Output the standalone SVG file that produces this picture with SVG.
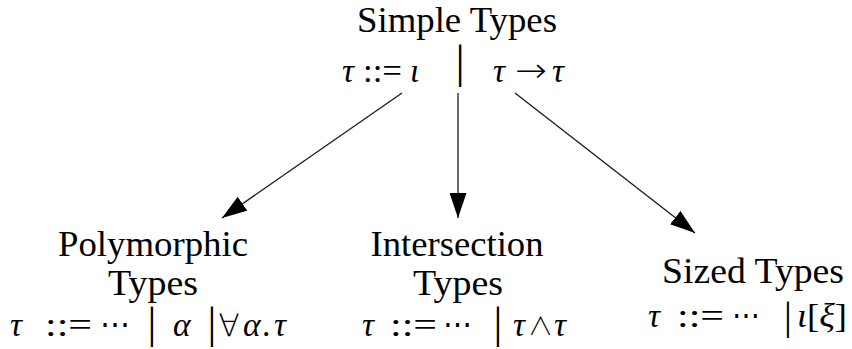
<svg xmlns="http://www.w3.org/2000/svg" width="852" height="349" viewBox="0 0 852 349">
<style>
text{font-family:"Liberation Serif","DejaVu Serif",serif;font-size:33.5px;fill:#000}
.h{font-size:35px;text-anchor:middle}
.m{font-style:italic}
.bar{text-anchor:middle}
.sym{font-family:"DejaVu Sans",sans-serif;font-weight:200;text-anchor:middle}
.wedge{font-family:"Noto Sans CJK JP","DejaVu Sans",sans-serif;font-weight:300;text-anchor:middle}
.arr{font-family:"DejaVu Sans",sans-serif;font-weight:200}
.c{stroke:#1a1a1a;stroke-width:1.3;fill:none}
</style>
<defs>
<marker id="ah" viewBox="0 0 25 17" refX="25" refY="8.5" markerWidth="25" markerHeight="17" markerUnits="userSpaceOnUse" orient="auto">
<path d="M0,0 L25,8.5 L0,17 z" fill="#000"/>
</marker>
</defs>
<g id="connectors">
<line class="c" x1="402" y1="93" x2="222" y2="218" marker-end="url(#ah)"/>
<line class="c" x1="458" y1="93" x2="458" y2="218" marker-end="url(#ah)"/>
<line class="c" x1="515" y1="93" x2="695" y2="233" marker-end="url(#ah)"/>
</g>
<g id="simple">
<text class="h" x="457" y="32" textLength="200" lengthAdjust="spacingAndGlyphs">Simple Types</text>
<text class="m" x="342" y="82">τ</text>
<text x="363" y="82" textLength="39" lengthAdjust="spacingAndGlyphs">::=</text>
<text class="m" x="410" y="82">ι</text>
<text class="bar" x="460" y="77" style="font-size:46px">|</text>
<text class="m" x="493" y="82">τ</text>
<text class="arr" x="515" y="82" textLength="32" lengthAdjust="spacingAndGlyphs">→</text>
<text class="m" x="552" y="82">τ</text>
</g>
<g id="poly">
<text class="h" x="153" y="256" textLength="190" lengthAdjust="spacingAndGlyphs">Polymorphic</text>
<text class="h" x="153" y="295" textLength="90" lengthAdjust="spacingAndGlyphs">Types</text>
<text class="m" x="10" y="336">τ</text>
<text x="45" y="336" textLength="47" lengthAdjust="spacingAndGlyphs">::=</text>
<text x="100" y="336" textLength="30" lengthAdjust="spacingAndGlyphs">⋯</text>
<text class="bar" x="152" y="337.5" style="font-size:44px">|</text>
<text class="m" x="173" y="336">α</text>
<text class="bar" x="212" y="337.5" style="font-size:44px">|</text>
<text class="sym" x="229" y="336" style="font-size:31px">∀</text>
<text class="m" x="243" y="336">α</text>
<text x="262" y="336">.</text>
<text class="m" x="274" y="336">τ</text>
</g>
<g id="inter">
<text class="h" x="457" y="256" textLength="173" lengthAdjust="spacingAndGlyphs">Intersection</text>
<text class="h" x="458" y="295" textLength="90" lengthAdjust="spacingAndGlyphs">Types</text>
<text class="m" x="362" y="336">τ</text>
<text x="390" y="336" textLength="47" lengthAdjust="spacingAndGlyphs">::=</text>
<text x="443" y="336" textLength="29" lengthAdjust="spacingAndGlyphs">⋯</text>
<text class="bar" x="498" y="337.5" style="font-size:44px">|</text>
<text class="m" x="513" y="336">τ</text>
<text class="wedge" x="540.5" y="335" style="font-size:25px">∧</text>
<text class="m" x="554" y="336">τ</text>
</g>
<g id="sized">
<text class="h" x="753" y="283" textLength="182" lengthAdjust="spacingAndGlyphs">Sized Types</text>
<text class="m" x="648" y="327">τ</text>
<text x="677" y="327" textLength="47" lengthAdjust="spacingAndGlyphs">::=</text>
<text x="732" y="327" textLength="28" lengthAdjust="spacingAndGlyphs">⋯</text>
<text class="bar" x="788" y="328.5" style="font-size:39px">|</text>
<text x="797" y="327" textLength="50" lengthAdjust="spacingAndGlyphs"><tspan class="m">ι</tspan>[<tspan class="m">ξ</tspan>]</text>
</g>
</svg>
